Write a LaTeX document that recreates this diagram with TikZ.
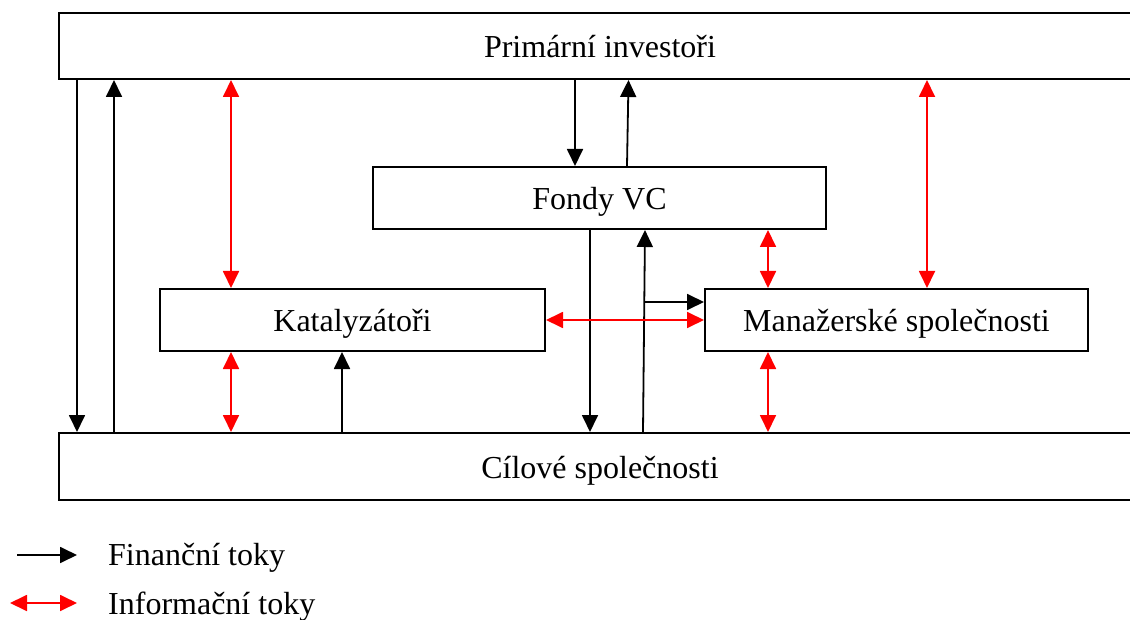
\documentclass[tikz,border=0pt]{standalone}
\usepackage{fontspec}
\setmainfont{Liberation Serif}
\usetikzlibrary{arrows.meta}
\begin{document}
\begin{tikzpicture}[x=1pt,y=-1pt,
  box/.style={draw=black,line width=2pt,fill=white,inner sep=0pt,text height=24pt,text depth=0pt,font=\fontsize{32}{36}\selectfont},
  fin/.style={draw=black,line width=1.8pt,-{Triangle[length=17pt,width=16pt]}},
  inf/.style={draw=red,line width=1.8pt,{Triangle[length=17pt,width=16pt]}-{Triangle[length=17pt,width=16pt]}},
  lbl/.style={anchor=base west,inner sep=0pt,font=\fontsize{32}{36}\selectfont}]
\clip (0,0) rectangle (1130,620);
\fill[white] (0,0) rectangle (1130,620);
% boxes
\node[box,minimum width=1082pt,minimum height=66pt] (pi) at (600,46) {Primární investoři};
\node[box,minimum width=1082pt,minimum height=67pt] (cs) at (600,466.5) {Cílové společnosti};
\node[box,minimum width=453pt,minimum height=62pt] (fv) at (599.5,198) {Fondy VC};
\node[box,minimum width=385pt,minimum height=62pt] (kt) at (352.5,320) {Katalyzátoři};
\node[box,minimum width=383pt,minimum height=62pt] (mg) at (896.5,320) {Manažerské společnosti};
% financial flows
\draw[fin] (77,0 |- pi.south) -- (77,0 |- cs.north);
\draw[fin] (114,0 |- cs.north) -- (114,0 |- pi.south);
\draw[fin] (575,0 |- pi.south) -- (575,0 |- fv.north);
\draw[fin] (627,0 |- fv.north) -- (628.5,0 |- pi.south);
\draw[fin] (590,0 |- fv.south) -- (590,0 |- cs.north);
\draw[fin] (643,0 |- cs.north) -- (645,0 |- fv.south);
\coordinate (br) at (644,302);
\draw[fin] (br) -- (br -| mg.west);
\draw[fin] (342,0 |- cs.north) -- (342,0 |- kt.south);
% information flows
\draw[inf] (231,0 |- pi.south) -- (231,0 |- kt.north);
\draw[inf] (927,0 |- pi.south) -- (927,0 |- mg.north);
\draw[inf] (768,0 |- fv.south) -- (768,0 |- mg.north);
\draw[inf] (kt) -- (mg);
\draw[inf] (231,0 |- kt.south) -- (231,0 |- cs.north);
\draw[inf] (768,0 |- mg.south) -- (768,0 |- cs.north);
% legend
\coordinate (lf1) at (17,555);
\coordinate (lf2) at (77,555);
\coordinate (li1) at (10,603);
\coordinate (li2) at (77,603);
\draw[fin] (lf1) -- (lf2);
\draw[inf] (li1) -- (li2);
\node[lbl] (tf) at (108,565) {Finanční toky};
\node[lbl] (ti) at (108,614) {Informační toky};
\end{tikzpicture}
\end{document}
